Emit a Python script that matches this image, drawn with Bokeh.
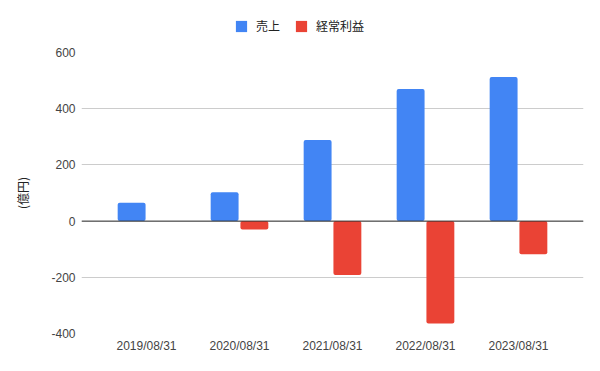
from bokeh.plotting import figure
from bokeh.layouts import column
from bokeh.models import (ColumnDataSource, FactorRange, Range1d, FixedTicker, Span,
                          Legend, LegendItem)
from bokeh.transform import dodge
from bokeh.embed import file_html
from bokeh.resources import INLINE

years = ["2019/08/31", "2020/08/31", "2021/08/31", "2022/08/31", "2023/08/31"]
sales = [65, 103, 289, 470, 513]
ordinary_profit = [0, -30, -192, -364, -118]
y_ticks = [-400, -200, 0, 200, 400, 600]
series_names = ["売上", "経常利益"]

BLUE = "#4285F4"
RED = "#EA4335"

src = ColumnDataSource(dict(year=years, sales=sales, profit=ordinary_profit))

# ---- main chart ----
p = figure(width=600, height=327, output_backend="svg", toolbar_location=None,
           x_range=FactorRange(factors=years, range_padding=0.0796),
           y_range=Range1d(-400, 600),
           min_border_left=81, min_border_right=17, min_border_top=8, min_border_bottom=38)
p.outline_line_color = None
p.background_fill_color = "white"

r1 = p.vbar(x=dodge("year", -0.16, range=p.x_range), top="sales", bottom=0, width=0.3,
            source=src, fill_color=BLUE, line_color=None, border_radius=2)
r2 = p.vbar(x=dodge("year", 0.16, range=p.x_range), top="profit", bottom=0, width=0.3,
            source=src, fill_color=RED, line_color=None, border_radius=2)

p.add_layout(Span(location=0, dimension="width", line_color="#333333", line_width=1))

p.yaxis.ticker = FixedTicker(ticks=y_ticks)
p.yaxis.major_label_overrides = {t: str(t) for t in y_ticks}
p.yaxis.axis_line_color = None
p.yaxis.major_tick_line_color = None
p.yaxis.minor_tick_line_color = None
p.yaxis.major_tick_out = 0
p.yaxis.major_tick_in = 0
p.yaxis.major_label_text_font = "Liberation Sans"
p.yaxis.major_label_text_font_size = "12px"
p.yaxis.major_label_text_color = "#444444"
p.yaxis.major_label_standoff = 6
p.yaxis.axis_label = "(億円)"
p.yaxis.axis_label_text_font = "Noto Sans CJK JP"
p.yaxis.axis_label_text_font_style = "normal"
p.yaxis.axis_label_text_font_size = "12px"
p.yaxis.axis_label_text_color = "#222222"
p.yaxis.axis_label_standoff = 17

p.xaxis.axis_line_color = None
p.xaxis.major_tick_line_color = None
p.xaxis.minor_tick_line_color = None
p.xaxis.major_tick_out = 0
p.xaxis.major_tick_in = 0
p.xaxis.major_label_text_font = "Liberation Sans"
p.xaxis.major_label_text_font_size = "12px"
p.xaxis.major_label_text_color = "#444444"
p.xaxis.major_label_standoff = 5

p.xgrid.grid_line_color = None
p.ygrid.grid_line_color = "#cccccc"
p.ygrid.grid_line_width = 1

# ---- legend strip ----
leg = figure(width=600, height=44, output_backend="svg", toolbar_location=None,
             x_range=FactorRange(factors=years), y_range=Range1d(0, 44),
             x_axis_location=None, y_axis_location=None,
             min_border_left=0, min_border_right=0, min_border_top=0, min_border_bottom=0)
leg.outline_line_color = None
leg.grid.visible = False
d1 = leg.vbar(x="year", top="sales", width=0.3, source=src,
              fill_color=BLUE, line_color=None, visible=False)
d2 = leg.vbar(x="year", top="profit", width=0.3, source=src,
              fill_color=RED, line_color=None, visible=False)
legend = Legend(items=[LegendItem(label=series_names[0], renderers=[d1]),
                       LegendItem(label=series_names[1], renderers=[d2])],
                orientation="horizontal", location=(153, 10),
                glyph_width=14, glyph_height=14, label_height=11,
                label_standoff=8, spacing=14, padding=0, margin=0,
                label_text_font="Noto Sans CJK JP", label_text_font_size="12px",
                label_text_color="#222222",
                inactive_fill_alpha=0,
                border_line_color=None, background_fill_alpha=0)
leg.add_layout(legend, "center")

open("out.html", "w").write(file_html(column(leg, p), INLINE))
